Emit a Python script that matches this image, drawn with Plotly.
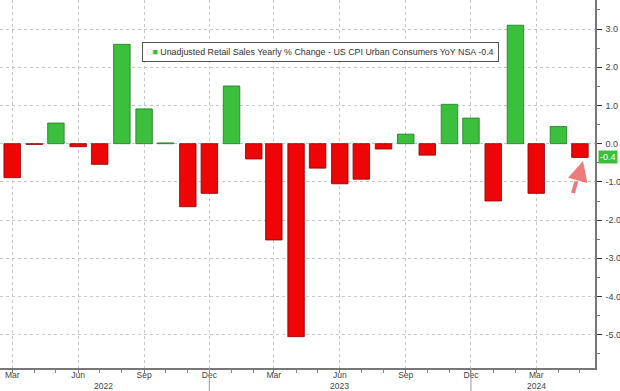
import plotly.graph_objects as go
import pandas as pd

months = pd.date_range("2022-03-01", "2024-05-01", freq="MS")
values = [-0.89, -0.02, 0.54, -0.08, -0.54, 2.60, 0.91, 0.02, -1.65, -1.30,
          1.51, -0.40, -2.52, -5.05, -0.64, -1.05, -0.93, -0.14, 0.25, -0.30,
          1.03, 0.67, -1.50, 3.10, -1.30, 0.45, -0.36]
tick_dates = ["2022-03-01", "2022-06-01", "2022-09-01", "2022-12-01", "2023-03-01",
              "2023-06-01", "2023-09-01", "2023-12-01", "2024-03-01"]
tick_text = ["Mar", "Jun", "Sep", "Dec", "Mar", "Jun", "Sep", "Dec", "Mar"]
year_labels = ["2022", "2023", "2024"]
year_label_dates = ["2022-07-07", "2023-06-01", "2024-03-01"]
year_separators = ["2022-12-01", "2023-12-01"]
y_ticks = [3, 2, 1, 0, -1, -2, -3, -4, -5]
legend_name = "Unadjusted Retail Sales Yearly % Change - US CPI Urban Consumers YoY NSA -0.4"
last_label = "-0.4"

GREEN = "#3cbf3c"
RED = "#ee0505"
colors = [GREEN if v >= 0 else RED for v in values]
outlines = ["#1d7a1d" if v >= 0 else "#8a0000" for v in values]

fig = go.Figure()
fig.add_trace(go.Bar(
    x=months, y=values, marker=dict(color=colors, line=dict(color=outlines, width=0.8)),
    width=23 * 86400000, showlegend=False))

fig.update_layout(
    width=620, height=391, margin=dict(l=0, r=25, t=0, b=23),
    paper_bgcolor="white", plot_bgcolor="white", barmode="overlay",
    font=dict(family="Liberation Sans, Arial", size=9, color="#444"),
    xaxis=dict(type="date", range=["2022-02-12", "2024-05-22"],
               tickvals=tick_dates, ticktext=tick_text,
               showgrid=True, gridcolor="#c8c8c8", griddash="dot", gridwidth=1,
               ticks="outside", ticklen=3, tickcolor="#777",
               showline=True, linecolor="#777", linewidth=1.5,
               minor=dict(dtick="M1", tick0="2022-03-01", ticks="outside", ticklen=3,
                          tickcolor="#888", showgrid=False),
               tickfont=dict(size=8.5, color="#444"), zeroline=False,
               ticklabelstandoff=-5),
    yaxis=dict(side="right", range=[-5.87, 3.76], tickvals=y_ticks,
               ticktext=[f"{v:.1f}" for v in y_ticks],
               showgrid=True, gridcolor="#c8c8c8", griddash="dot", gridwidth=1,
               ticks="outside", ticklen=5, tickcolor="#333",
               showline=True, linecolor="#777", linewidth=1.5,
               minor=dict(dtick=0.5, ticks="outside", ticklen=3, tickcolor="#777",
                          showgrid=False),
               tickfont=dict(size=9, color="#444"), zeroline=False, ticklabelstandoff=2),
)

# legend box
fig.add_annotation(x=142 / 595, y=1 - 42 / 368, xref="paper", yref="paper",
                   xanchor="left", yanchor="top", showarrow=False, align="left",
                   text=f"<span style='color:#bbb'>□</span><span style='color:{GREEN}'>■</span> {legend_name}",
                   font=dict(size=8.9, color="#333"), bgcolor="white",
                   bordercolor="#555", borderwidth=1, borderpad=4)

for lbl, d in zip(year_labels, year_label_dates):
    fig.add_annotation(x=d, xref="x", y=-(386 - 368) / 368, yref="paper", yanchor="middle",
                       text=lbl, showarrow=False, font=dict(size=8.5, color="#444"))
for d in year_separators:
    fig.add_shape(type="line", x0=d, x1=d, xref="x", y0=0, y1=-0.0625, yref="paper",
                  line=dict(color="#999", width=1))

# last value tag
fig.add_annotation(x=1.0, xref="paper", y=values[-1], yref="y", xanchor="left",
                   xshift=3, text=last_label, showarrow=False, bgcolor=GREEN,
                   font=dict(size=9, color="white"), borderpad=1)

# red dashed arrow
fig.add_shape(type="line", xref="paper", yref="paper",
              x0=573 / 595, y0=1 - 193 / 368, x1=579 / 595, y1=1 - 172 / 368,
              line=dict(color="rgba(230,80,80,0.75)", width=4, dash="dash"))
fig.add_annotation(x=583 / 595, y=1 - 161 / 368, xref="paper", yref="paper",
                   ax=-3, ay=11, showarrow=True, arrowhead=2, arrowsize=1,
                   arrowwidth=4, arrowcolor="rgba(230,80,80,0.75)", text="")

fig.write_html("out.html")
